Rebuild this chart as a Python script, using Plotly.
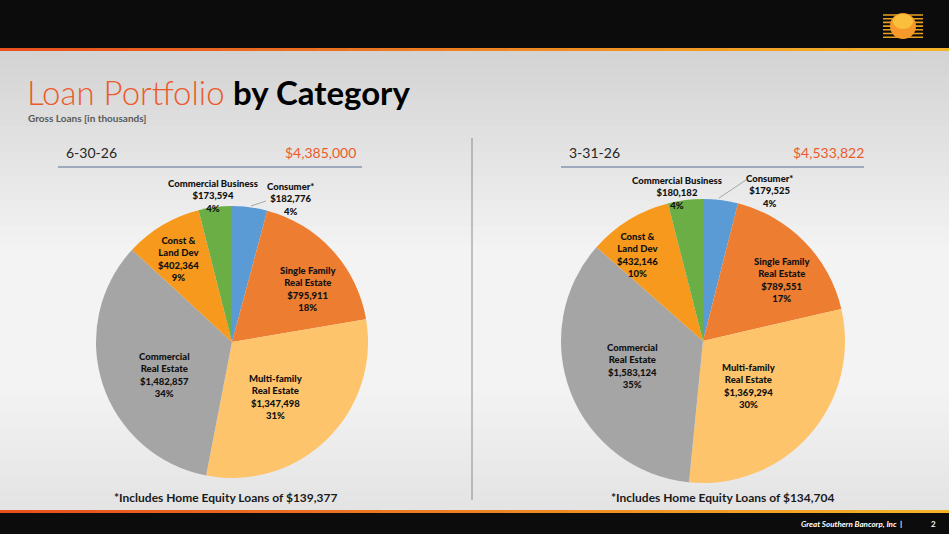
import plotly.graph_objects as go

W, H = 949, 534

categories = ["Consumer*", "Single Family<br>Real Estate", "Multi-family<br>Real Estate",
              "Commercial<br>Real Estate", "Const &<br>Land Dev", "Commercial Business"]
jun_values = [182776, 795911, 1347498, 1482857, 402364, 173594]
mar_values = [179525, 789551, 1369294, 1583124, 432146, 180182]
jun_pct = ["4%", "18%", "31%", "34%", "9%", "4%"]
mar_pct = ["4%", "17%", "30%", "35%", "10%", "4%"]
jun_total = "$4,385,000"
mar_total = "$4,533,822"
jun_equity = "$139,377"
mar_equity = "$134,704"

colors = ["#5B9BD5", "#ED7D31", "#FDC46C", "#A5A5A5", "#F7991C", "#6CAE46"]

# label centres (pixels) for each slice, in slice order
jun_label_pos = [(290, 199), (308, 289), (276, 397), (164, 375), (178, 259), (213, 196)]
mar_label_pos = [(769, 191), (782, 280), (749, 386), (632, 366), (637, 255), (677, 193)]

FONT = "Lato"


def px(x):
    return x / W


def py(y):
    return 1 - y / H


def labels_for(values, pcts):
    return ["%s<br>$%s<br>%s" % (c, f"{v:,}", p) for c, v, p in zip(categories, values, pcts)]


def domain(cx, cy, r):
    return dict(x=[px(cx - r), px(cx + r)], y=[py(cy + r), py(cy - r)])


fig = go.Figure()
ann = []

for vals, pcts, dom, pos in [(jun_values, jun_pct, domain(232, 342, 136), jun_label_pos),
                             (mar_values, mar_pct, domain(703, 341, 142), mar_label_pos)]:
    fig.add_trace(go.Pie(
        labels=categories, values=vals, textinfo="none", sort=False, direction="clockwise",
        rotation=0, domain=dom, hole=0,
        marker=dict(colors=colors, line=dict(width=0)),
        showlegend=False, hoverinfo="label+value",
    ))
    for lab, (x, y) in zip(labels_for(vals, pcts), pos):
        ann.append(dict(x=px(x), y=py(y), xref="paper", yref="paper", text=lab,
                        showarrow=False, xanchor="center", yanchor="middle", align="center",
                        font=dict(family=FONT, size=9.5, color="#111111", weight=900)))

shapes = []
# background shading
top_c, mid_c, bot_c = (212, 212, 212), (243, 243, 243), (228, 228, 228)
n = 24
for i in range(n):
    t = i / (n - 1)
    c = tuple(int(top_c[k] + (mid_c[k] - top_c[k]) * t) for k in range(3))
    y0 = 51 + i * 200 / n
    shapes.append(dict(type="rect", xref="paper", yref="paper", x0=0, x1=1,
                       y0=py(y0 + 200 / n + 1), y1=py(y0), fillcolor="rgb(%d,%d,%d)" % c,
                       line_width=0, layer="below"))
for i in range(n):
    t = i / (n - 1)
    c = tuple(int(mid_c[k] + (bot_c[k] - mid_c[k]) * t) for k in range(3))
    y0 = 390 + i * 121 / n
    shapes.append(dict(type="rect", xref="paper", yref="paper", x0=0, x1=1,
                       y0=py(y0 + 121 / n + 1), y1=py(y0), fillcolor="rgb(%d,%d,%d)" % c,
                       line_width=0, layer="below"))

# header and footer bands
shapes.append(dict(type="rect", xref="paper", yref="paper", x0=0, x1=1, y0=py(48), y1=1,
                   fillcolor="#0C0C0C", line_width=0))
shapes.append(dict(type="rect", xref="paper", yref="paper", x0=0, x1=1, y0=0, y1=py(513),
                   fillcolor="#0C0C0C", line_width=0))
seg = 30
for i in range(seg):
    t = i / (seg - 1)
    r, g, b = 232 + int(13 * t), 80 + int(100 * t), 30 + int(10 * t)
    for ya, yb in [(48, 51), (510, 513)]:
        shapes.append(dict(type="rect", xref="paper", yref="paper",
                           x0=i / seg, x1=(i + 1) / seg + 0.002, y0=py(yb), y1=py(ya),
                           fillcolor="rgb(%d,%d,%d)" % (r, g, b), line_width=0))

# logo
for k in range(7):
    yy = 15 + k * 3.7
    shapes.append(dict(type="line", xref="paper", yref="paper", x0=px(883), x1=px(923),
                       y0=py(yy), y1=py(yy), line=dict(color="#E8A020", width=1.6)))
shapes.append(dict(type="circle", xref="paper", yref="paper", x0=px(890), x1=px(916),
                   y0=py(39), y1=py(13), fillcolor="#F59A2A", line_width=0))
shapes.append(dict(type="circle", xref="paper", yref="paper", x0=px(893), x1=px(913),
                   y0=py(29), y1=py(14), fillcolor="#FBBF3E", line_width=0))

# header underlines and divider
for x0, x1 in [(58, 362), (561, 864)]:
    shapes.append(dict(type="line", xref="paper", yref="paper", x0=px(x0), x1=px(x1),
                       y0=py(167), y1=py(167), line=dict(color="#8496B0", width=1.5)))
shapes.append(dict(type="line", xref="paper", yref="paper", x0=px(472), x1=px(472),
                   y0=py(500), y1=py(138), line=dict(color="#8C8C8C", width=1)))

# leader lines for the Consumer labels
for (x0, y0), (x1, y1) in [((251, 206), (266, 201)), ((719, 198), (746, 180))]:
    shapes.append(dict(type="line", xref="paper", yref="paper", x0=px(x0), x1=px(x1),
                       y0=py(y0), y1=py(y1), line=dict(color="#A6A6A6", width=1)))


def text(x, y, s, size, color, anchor="left", weight="normal", style="normal"):
    ann.append(dict(x=px(x), y=py(y), xref="paper", yref="paper", text=s, showarrow=False,
                    xanchor=anchor, yanchor="middle",
                    font=dict(family=FONT, size=size, color=color, weight=weight, style=style)))


text(25, 92, "<span style='font-weight:300'>Loan Portfolio</span> "
     "<span style='color:#000000'><b>by Category</b></span>", 33, "#EC5A2C")
text(26, 118, "Gross Loans [in thousands]", 10, "#595959", weight="bold")
text(64, 152, "6-30-26", 14, "#262626")
text(358, 152, jun_total, 14, "#EC5A2C", anchor="right")
text(567, 152, "3-31-26", 14, "#262626")
text(866, 152, mar_total, 14, "#EC5A2C", anchor="right")
text(225, 497, "*Includes Home Equity Loans of " + jun_equity, 12, "#1A1A1A", anchor="center",
     weight="bold")
text(722, 497, "*Includes Home Equity Loans of " + mar_equity, 12, "#1A1A1A", anchor="center",
     weight="bold")
text(904, 524, "Great Southern Bancorp, Inc  |", 8, "#FFFFFF", anchor="right",
     weight="bold", style="italic")
text(938, 524, "2", 8, "#FFFFFF", anchor="right", weight="bold")

fig.update_layout(
    width=W, height=H, margin=dict(l=0, r=0, t=0, b=0),
    paper_bgcolor="#F3F3F3", plot_bgcolor="#F3F3F3",
    shapes=shapes, annotations=ann,
)

fig.write_html("out.html", config={"displayModeBar": False},
               post_script="document.body.style.margin='0';")
